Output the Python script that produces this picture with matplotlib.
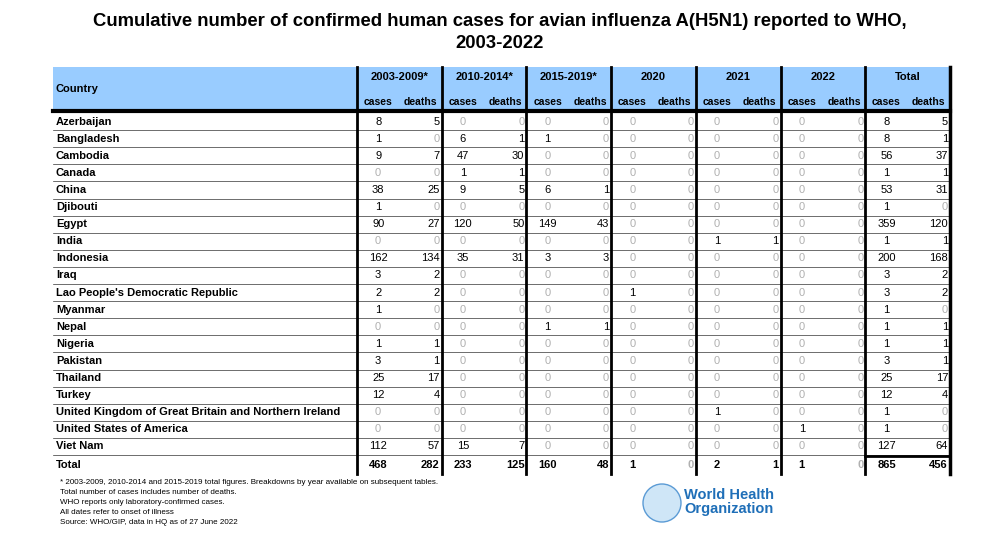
import matplotlib
matplotlib.use("Agg")
import matplotlib.pyplot as plt
from matplotlib.patches import Rectangle, Circle

plt.rcParams["font.family"] = ["Liberation Sans", "DejaVu Sans"]

periods = ["2003-2009*", "2010-2014*", "2015-2019*", "2020", "2021", "2022"]
countries = [
    "Azerbaijan", "Bangladesh", "Cambodia", "Canada", "China", "Djibouti",
    "Egypt", "India", "Indonesia", "Iraq", "Lao People's Democratic Republic",
    "Myanmar", "Nepal", "Nigeria", "Pakistan", "Thailand", "Turkey",
    "United Kingdom of Great Britain and Northern Ireland",
    "United States of America", "Viet Nam",
]
# one row per country, one entry per period
cases = [
    [8, 0, 0, 0, 0, 0], [1, 6, 1, 0, 0, 0], [9, 47, 0, 0, 0, 0],
    [0, 1, 0, 0, 0, 0], [38, 9, 6, 0, 0, 0], [1, 0, 0, 0, 0, 0],
    [90, 120, 149, 0, 0, 0], [0, 0, 0, 0, 1, 0], [162, 35, 3, 0, 0, 0],
    [3, 0, 0, 0, 0, 0], [2, 0, 0, 1, 0, 0], [1, 0, 0, 0, 0, 0],
    [0, 0, 1, 0, 0, 0], [1, 0, 0, 0, 0, 0], [3, 0, 0, 0, 0, 0],
    [25, 0, 0, 0, 0, 0], [12, 0, 0, 0, 0, 0], [0, 0, 0, 0, 1, 0],
    [0, 0, 0, 0, 0, 1], [112, 15, 0, 0, 0, 0],
]
deaths = [
    [5, 0, 0, 0, 0, 0], [0, 1, 0, 0, 0, 0], [7, 30, 0, 0, 0, 0],
    [0, 1, 0, 0, 0, 0], [25, 5, 1, 0, 0, 0], [0, 0, 0, 0, 0, 0],
    [27, 50, 43, 0, 0, 0], [0, 0, 0, 0, 1, 0], [134, 31, 3, 0, 0, 0],
    [2, 0, 0, 0, 0, 0], [2, 0, 0, 0, 0, 0], [0, 0, 0, 0, 0, 0],
    [0, 0, 1, 0, 0, 0], [1, 0, 0, 0, 0, 0], [1, 0, 0, 0, 0, 0],
    [17, 0, 0, 0, 0, 0], [4, 0, 0, 0, 0, 0], [0, 0, 0, 0, 0, 0],
    [0, 0, 0, 0, 0, 0], [57, 7, 0, 0, 0, 0],
]
footnotes = [
    "* 2003-2009, 2010-2014 and 2015-2019 total figures. Breakdowns by year available on subsequent tables.",
    "Total number of cases includes number of deaths.",
    "WHO reports only laboratory-confirmed cases.",
    "All dates refer to onset of illness",
    "Source: WHO/GIP, data in HQ as of 27 June 2022",
]

fig = plt.figure(figsize=(9.99, 5.37), dpi=100)
ax = fig.add_axes([0, 0, 1, 1])
ax.set_xlim(0, 999)
ax.set_ylim(537, 0)
ax.axis("off")

ax.text(500, 21, "Cumulative number of confirmed human cases for avian influenza A(H5N1) reported to WHO,",
        ha="center", va="center", fontsize=13.3, fontweight="bold")
ax.text(500, 43, "2003-2022", ha="center", va="center", fontsize=13.3, fontweight="bold")

x0, x_country, x1 = 53, 357, 950
ngroups = len(periods) + 1
gw = (x1 - x_country) / ngroups
top, head_bot = 67, 111
row_h = 17.1
row0 = 113

# header
ax.add_patch(Rectangle((x0, top), x1 - x0, head_bot - top, color="#99ccff", lw=0))
ax.text(x0 + 3, 89, "Country", ha="left", va="center", fontsize=8, fontweight="bold")
labels = periods + ["Total"]
for g, lab in enumerate(labels):
    gx = x_country + g * gw
    ax.text(gx + gw / 2, 77, lab, ha="center", va="center", fontsize=8, fontweight="bold")
    ax.text(gx + gw * 0.25, 102, "cases", ha="center", va="center", fontsize=7.5, fontweight="bold")
    ax.text(gx + gw * 0.75, 102, "deaths", ha="center", va="center", fontsize=7.5, fontweight="bold")
ax.plot([x0, x1], [head_bot, head_bot], color="black", lw=3)

tot_cases = [sum(c) for c in cases]
tot_deaths = [sum(d) for d in deaths]
col_cases = [sum(r[i] for r in cases) for i in range(len(periods))]
col_deaths = [sum(r[i] for r in deaths) for i in range(len(periods))]

def draw_num(val, gx, is_death, y, bold=False):
    color = "black" if val else "#b0b0b0"
    weight = "bold" if bold else "normal"
    if is_death:
        ax.text(gx + gw - 2, y, str(val), ha="right", va="center", fontsize=8, color=color, fontweight=weight)
    else:
        ax.text(gx + gw * 0.25, y, str(val), ha="center", va="center", fontsize=8, color=color, fontweight=weight)

n = len(countries)
for i, name in enumerate(countries):
    yc = row0 + (i + 0.5) * row_h
    ax.text(x0 + 3, yc, name, ha="left", va="center", fontsize=8, fontweight="bold")
    vals_c = cases[i] + [tot_cases[i]]
    vals_d = deaths[i] + [tot_deaths[i]]
    for g in range(ngroups):
        gx = x_country + g * gw
        draw_num(vals_c[g], gx, False, yc)
        draw_num(vals_d[g], gx, True, yc)
    ax.plot([x0, x1], [row0 + (i + 1) * row_h] * 2, color="#333333", lw=0.5)

# total row
yt = row0 + (n + 0.5) * row_h + 1
ax.text(x0 + 3, yt, "Total", ha="left", va="center", fontsize=8, fontweight="bold")
vals_c = col_cases + [sum(tot_cases)]
vals_d = col_deaths + [sum(tot_deaths)]
for g in range(ngroups):
    gx = x_country + g * gw
    draw_num(vals_c[g], gx, False, yt, bold=True)
    draw_num(vals_d[g], gx, True, yt, bold=True)
bottom = row0 + (n + 1) * row_h + 2
tx = x_country + (ngroups - 1) * gw
ax.plot([tx, x1], [row0 + n * row_h + 1] * 2, color="black", lw=2)

# vertical lines
for g in range(ngroups):
    gx = x_country + g * gw
    ax.plot([gx, gx], [top, bottom], color="black", lw=2)
ax.plot([x1, x1], [top, bottom], color="black", lw=2.5)

for k, line in enumerate(footnotes):
    ax.text(60, 483 + k * 10, line, ha="left", va="center", fontsize=5.8,
            fontfamily=["Liberation Sans Narrow", "Liberation Sans"])

# WHO logo stand-in
ax.add_patch(Circle((662, 503), 19, facecolor="#cfe6f7", edgecolor="#5b9bd5", lw=1))
ax.text(684, 502, "World Health\nOrganization", ha="left", va="center", fontsize=10.5,
        color="#1f6fb8", fontweight="bold", linespacing=1.0)

fig.savefig("out.png", dpi=100)
